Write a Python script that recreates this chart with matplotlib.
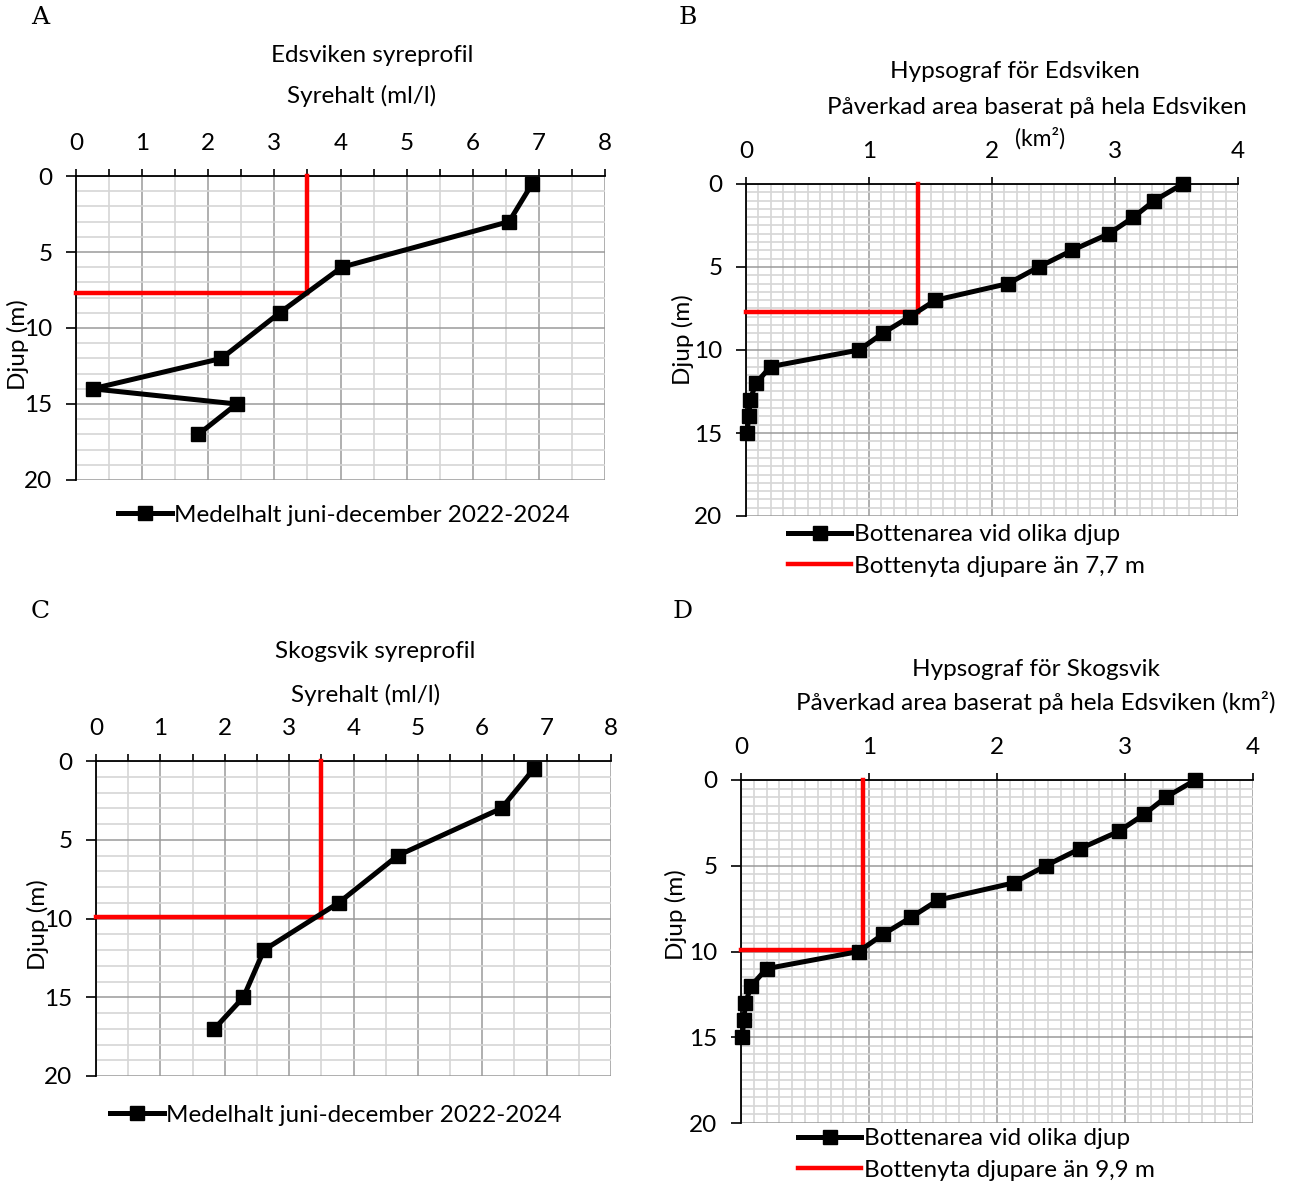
import matplotlib
matplotlib.use("Agg")
import matplotlib.pyplot as plt
from matplotlib.ticker import MultipleLocator

# ---------------- data ----------------
# Panel A: Edsviken oxygen profile
edsviken_depth = [0.5, 3, 6, 9, 12, 14, 15, 17]
edsviken_oxygen = [6.9, 6.55, 4.02, 3.08, 2.2, 0.25, 2.43, 1.85]
edsviken_limit_oxygen = 3.5
edsviken_limit_depth = 7.7

# Panel C: Skogsvik oxygen profile
skogsvik_depth = [0.5, 3, 6, 9, 12, 15, 17]
skogsvik_oxygen = [6.8, 6.3, 4.69, 3.77, 2.61, 2.29, 1.84]
skogsvik_limit_oxygen = 3.5
skogsvik_limit_depth = 9.9

# Panels B and D: hypsograph (bottom area at depth, km2)
hyps_depth = [0, 1, 2, 3, 4, 5, 6, 7, 8, 9, 10, 11, 12, 13, 14, 15]
hyps_area = [3.55, 3.32, 3.15, 2.95, 2.65, 2.38, 2.13, 1.54, 1.33, 1.11, 0.92,
             0.20, 0.08, 0.035, 0.022, 0.009]
hypsB_limit_area = 1.40
hypsB_limit_depth = 7.7
hypsD_limit_area = 0.95
hypsD_limit_depth = 9.9

legend_oxygen = "Medelhalt juni-december 2022-2024"
legend_area = "Bottenarea vid olika djup"
legend_limitB = "Bottenyta djupare än 7,7 m"
legend_limitD = "Bottenyta djupare än 9,9 m"

# ---------------- style ----------------
W, H = 1292, 1182
plt.rcParams['font.family'] = ['Lato', 'DejaVu Sans']
FS = 17.5
fig = plt.figure(figsize=(W / 100, H / 100), dpi=100)
fig.patch.set_facecolor('white')

MAJ = '#9a9a9a'
MIN = '#d6d6d6'


def pxax(l, t, r, b):
    return [l / W, 1 - b / H, (r - l) / W, (b - t) / H]


def ftext(x, y, s, **kw):
    fig.text(x / W, 1 - y / H, s, ha=kw.pop('ha', 'center'), va=kw.pop('va', 'center'), **kw)


def setup(ax, xmax, xmaj, xmin, ymin_step, xminor_ticks):
    ax.set_xlim(0, xmax)
    ax.set_ylim(20, 0)
    ax.xaxis.tick_top()
    ax.xaxis.set_major_locator(MultipleLocator(xmaj))
    ax.xaxis.set_minor_locator(MultipleLocator(xmin))
    ax.yaxis.set_major_locator(MultipleLocator(5))
    ax.yaxis.set_minor_locator(MultipleLocator(ymin_step))
    ax.grid(which='major', color=MAJ, lw=1.1, zorder=0)
    ax.grid(which='minor', color=MIN, lw=1.2, zorder=0)
    ax.set_axisbelow(True)
    for s in ['right', 'bottom']:
        ax.spines[s].set_visible(False)
    for s in ['top', 'left']:
        ax.spines[s].set_color('black')
        ax.spines[s].set_linewidth(1.3)
    ax.tick_params(axis='x', which='major', direction='out', length=5, width=1.2,
                   pad=11, labelsize=FS, top=True, bottom=False)
    ax.tick_params(axis='x', which='minor', direction='out',
                   length=5 if xminor_ticks else 0, width=1.2, top=True, bottom=False)
    ax.tick_params(axis='y', which='major', direction='out', length=7, width=1.2,
                   pad=10, labelsize=FS)
    ax.tick_params(axis='y', which='minor', length=0)
    ax.set_facecolor('white')


line_kw = dict(color='black', lw=3.6, marker='s', markersize=10, zorder=4, clip_on=False)
red_kw = dict(color='#ff0000', lw=3.2, zorder=3, clip_on=False)
leg_kw = dict(frameon=False, fontsize=FS, handletextpad=0.1, borderaxespad=0, borderpad=0)

# ---------------- Panel A ----------------
axA = fig.add_axes(pxax(76, 176, 605, 480))
setup(axA, 8, 1, 0.5, 1, True)
axA.plot([edsviken_limit_oxygen, edsviken_limit_oxygen], [0, edsviken_limit_depth], **red_kw)
axA.plot([0, edsviken_limit_oxygen], [edsviken_limit_depth, edsviken_limit_depth], **red_kw)
hA, = axA.plot(edsviken_oxygen, edsviken_depth, label=legend_oxygen, **line_kw)
ftext(372, 55, "Edsviken syreprofil", fontsize=FS)
ftext(362, 96, "Syrehalt (ml/l)", fontsize=FS)
ftext(18, 345, "Djup (m)", fontsize=FS, rotation=90)
ftext(40, 18, "A", fontsize=18, family='DejaVu Serif')
fig.legend(handles=[hA], loc='center', bbox_to_anchor=(344 / W, 1 - 515 / H),
           handlelength=2.2, **leg_kw)

# ---------------- Panel C ----------------
axC = fig.add_axes(pxax(96, 761, 611, 1076))
setup(axC, 8, 1, 0.5, 1, True)
axC.plot([skogsvik_limit_oxygen, skogsvik_limit_oxygen], [0, skogsvik_limit_depth], **red_kw)
axC.plot([0, skogsvik_limit_oxygen], [skogsvik_limit_depth, skogsvik_limit_depth], **red_kw)
hC, = axC.plot(skogsvik_oxygen, skogsvik_depth, label=legend_oxygen, **line_kw)
ftext(375, 651, "Skogsvik syreprofil", fontsize=FS)
ftext(366, 695, "Syrehalt (ml/l)", fontsize=FS)
ftext(38, 925, "Djup (m)", fontsize=FS, rotation=90)
ftext(40, 612, "C", fontsize=18, family='DejaVu Serif')
fig.legend(handles=[hC], loc='center', bbox_to_anchor=(336 / W, 1 - 1115 / H),
           handlelength=2.2, **leg_kw)

# ---------------- Panel B ----------------
axB = fig.add_axes(pxax(746, 184, 1238, 516))
setup(axB, 4, 1, 0.1, 0.5, False)
rB1, = axB.plot([hypsB_limit_area, hypsB_limit_area], [0, hypsB_limit_depth],
                label=legend_limitB, **red_kw)
axB.plot([0, hypsB_limit_area], [hypsB_limit_depth, hypsB_limit_depth], **red_kw)
hB, = axB.plot(hyps_area, hyps_depth, label=legend_area, **line_kw)
ftext(1015, 71, "Hypsograf för Edsviken", fontsize=FS)
ftext(1037, 107, "Påverkad area baserat på hela Edsviken", fontsize=FS)
ftext(1040, 138, "(km²)", fontsize=FS - 1)
ftext(683, 340, "Djup (m)", fontsize=FS, rotation=90)
ftext(688, 18, "B", fontsize=18, family='DejaVu Serif')
fig.legend(handles=[hB, rB1], loc='upper left', bbox_to_anchor=(788 / W, 1 - 524 / H),
           handlelength=2.6, labelspacing=0.45, **leg_kw)

# ---------------- Panel D ----------------
axD = fig.add_axes(pxax(741, 780, 1253, 1123))
setup(axD, 4, 1, 0.1, 0.5, False)
rD1, = axD.plot([hypsD_limit_area, hypsD_limit_area], [0, hypsD_limit_depth],
                label=legend_limitD, **red_kw)
axD.plot([0, hypsD_limit_area], [hypsD_limit_depth, hypsD_limit_depth], **red_kw)
hD, = axD.plot(hyps_area, hyps_depth, label=legend_area, **line_kw)
ftext(1036, 670, "Hypsograf för Skogsvik", fontsize=FS)
ftext(1036, 703, "Påverkad area baserat på hela Edsviken (km²)", fontsize=FS)
ftext(676, 915, "Djup (m)", fontsize=FS, rotation=90)
ftext(683, 612, "D", fontsize=18, family='DejaVu Serif')
fig.legend(handles=[hD, rD1], loc='upper left', bbox_to_anchor=(798 / W, 1 - 1128 / H),
           handlelength=2.6, labelspacing=0.45, **leg_kw)

fig.savefig("out.png", dpi=100, facecolor='white')
